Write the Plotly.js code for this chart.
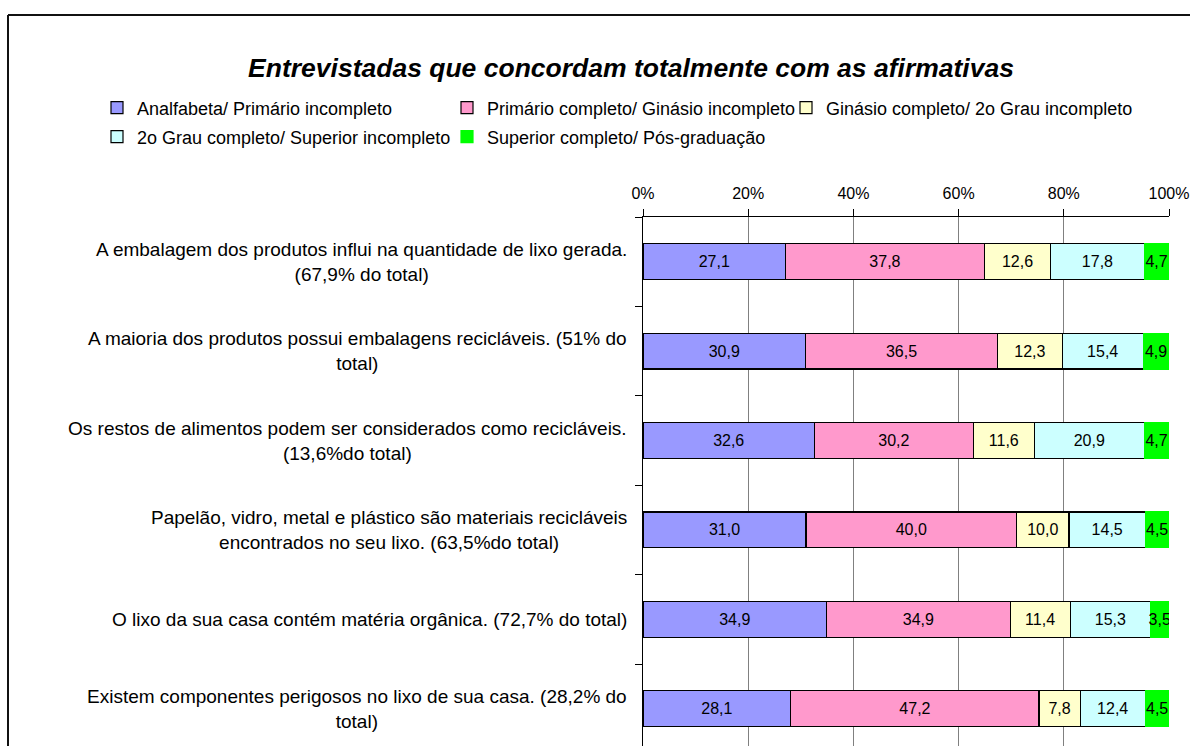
<!DOCTYPE html>
<html>
<head>
<meta charset="utf-8">
<script src="https://cdn.plot.ly/plotly-3.0.1.min.js"></script>
<style>
html,body{margin:0;padding:0;background:#fff;overflow:hidden;}
#chart{width:1190px;height:746px;}
</style>
</head>
<body>
<div id="chart"></div>
<script>
// ---- data ----
const categories = [
  "A embalagem dos produtos influi na quantidade de lixo gerada.<br>(67,9% do total)",
  "A maioria dos produtos possui embalagens recicláveis. (51% do<br>total)",
  "Os restos de alimentos podem ser considerados como recicláveis.<br>(13,6%do total)",
  "Papelão, vidro, metal e plástico são materiais recicláveis<br>encontrados no seu lixo. (63,5%do total)",
  "O lixo da sua casa contém matéria orgânica. (72,7% do total)",
  "Existem componentes perigosos no lixo de sua casa. (28,2% do<br>total)"
];
const seriesNames = [
  "Analfabeta/ Primário incompleto",
  "Primário completo/ Ginásio incompleto",
  "Ginásio completo/ 2o Grau incompleto",
  "2o Grau completo/ Superior incompleto",
  "Superior completo/ Pós-graduação"
];
const analfabeta = [27.1, 30.9, 32.6, 31.0, 34.9, 28.1];
const primario   = [37.8, 36.5, 30.2, 40.0, 34.9, 47.2];
const ginasio    = [12.6, 12.3, 11.6, 10.0, 11.4, 7.8];
const segundoGrau = [17.8, 15.4, 20.9, 14.5, 15.3, 12.4];
const superior   = [4.7, 4.9, 4.7, 4.5, 3.5, 4.5];
const xTickVals = [0, 20, 40, 60, 80, 100];
const xTickText = ["0%", "20%", "40%", "60%", "80%", "100%"];
const chartTitle = "Entrevistadas que concordam totalmente com as afirmativas";

// ---- styling ----
const FONT = "Liberation Sans, Arial, sans-serif";
const colors = ["#9999FF", "#FF99CC", "#FFFFCC", "#CCFFFF", "#00FF00"];
const lineColors = ["#000", "#000", "#000", "#000", "#00FF00"];
const allSeries = [analfabeta, primario, ginasio, segundoGrau, superior];
const legendIds = ["legend", "legend2", "legend3", "legend4", "legend5"];

const W = 1190, H = 746;
const plotL = 643, plotR = 1169, plotT = 217, plotB = 746;
const pw = plotR - plotL, ph = plotB - plotT;
const px2x = p => (p - plotL) / pw;
const px2y = p => (plotB - p) / ph;

const fmt = v => v.toFixed(1).replace('.', ',');

const traces = allSeries.map((vals, i) => ({
  type: 'bar',
  orientation: 'h',
  name: seriesNames[i],
  y: categories,
  x: vals,
  text: vals.map(fmt),
  textposition: 'inside',
  insidetextanchor: 'middle',
  textangle: 0,
  textfont: {family: FONT, size: 16, color: '#000'},
  marker: {color: colors[i], line: {color: lineColors[i], width: 1.2}},
  legend: legendIds[i],
  hoverinfo: 'skip'
}));

// legend placement (text start px, row center px) - grid columns as in the reference
const legendPos = [
  [137, 108], [487, 108], [826, 108],
  [137, 137], [487, 137]
];
const layout = {
  width: W, height: H,
  paper_bgcolor: '#fff', plot_bgcolor: '#fff',
  font: {family: FONT, color: '#000'},
  margin: {l: plotL, r: W - plotR, t: plotT, b: 0, pad: 0},
  barmode: 'stack',
  bargap: 0.6,
  uniformtext: {mode: 'show', minsize: 16},
  showlegend: true,
  title: {
    text: chartTitle,
    font: {family: FONT, size: 26.5, weight: 'bold', style: 'italic', color: '#000'},
    xref: 'container', yref: 'container',
    x: 631 / W, xanchor: 'center',
    y: 1 - 68 / H, yanchor: 'middle'
  },
  xaxis: {
    side: 'top', range: [0, 100], autorange: false,
    tickvals: xTickVals, ticktext: xTickText,
    ticks: 'outside', ticklen: 7, tickcolor: '#000', tickwidth: 1,
    ticklabelstandoff: 4,
    tickfont: {family: FONT, size: 16, color: '#000'},
    showgrid: true, gridcolor: '#808080', gridwidth: 1,
    showline: true, linecolor: '#000', linewidth: 1,
    zeroline: false, fixedrange: true
  },
  yaxis: {
    type: 'category', categoryorder: 'array', categoryarray: categories,
    range: [(ph / 89.4) - 0.5, -0.5], autorange: false,
    showticklabels: false,
    ticks: 'outside', tickson: 'boundaries', ticklen: 7, tickcolor: '#000',
    showline: true, linecolor: '#000', linewidth: 1,
    showgrid: false, zeroline: false, fixedrange: true
  },
  annotations: categories.map(c => ({
    xref: 'paper', yref: 'y',
    x: px2x(629), y: c,
    xanchor: 'right', yanchor: 'middle', align: 'center',
    text: c, showarrow: false,
    font: {family: FONT, size: 19, color: '#000'}
  })),
  shapes: [
    {type: 'line', xref: 'paper', yref: 'paper', layer: 'above',
     x0: px2x(8), x1: px2x(8), y0: px2y(15), y1: px2y(800),
     line: {color: '#111', width: 2}},
    {type: 'line', xref: 'paper', yref: 'paper', layer: 'above',
     x0: px2x(8), x1: px2x(1250), y0: px2y(15), y1: px2y(15),
     line: {color: '#111', width: 2}}
  ]
};
legendIds.forEach((id, i) => {
  layout[id] = {
    xref: 'container', yref: 'container',
    x: (legendPos[i][0] - 40) / W, xanchor: 'left',
    y: 1 - legendPos[i][1] / H, yanchor: 'middle',
    orientation: 'h', bgcolor: 'rgba(0,0,0,0)', borderwidth: 0,
    font: {family: FONT, size: 18, color: '#000'},
    itemclick: false, itemdoubleclick: false
  };
});

Plotly.newPlot('chart', traces, layout, {displayModeBar: false, staticPlot: true});
</script>
</body>
</html>
